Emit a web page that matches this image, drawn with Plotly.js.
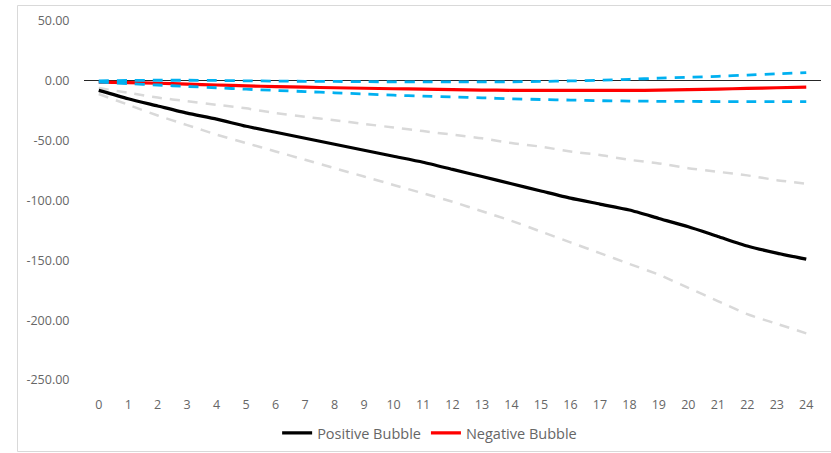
<!DOCTYPE html>
<html>
<head>
<meta charset="utf-8">
<script src="https://cdn.plot.ly/plotly-3.0.1.min.js"></script>
<style>
html,body{margin:0;padding:0;overflow:hidden;background:#fff;}
#chart{width:831px;height:453px;}
</style>
</head>
<body>
<div id="chart"></div>
<script>
// Horizon (categories)
const horizons = ["0","1","2","3","4","5","6","7","8","9","10","11","12","13","14","15","16","17","18","19","20","21","22","23","24"];

// Positive Bubble response and its bands
const positiveBubble = [-8,-15,-21,-27,-32,-38,-43,-48,-53,-58,-63,-68,-74,-80,-86,-92,-98,-103,-108,-115,-122,-130,-138,-144,-149];
const positiveUpper  = [-6,-10,-14,-17,-20,-23,-27,-30,-33,-36,-39,-42,-45,-48,-52,-55,-59,-62,-66,-69,-73,-76,-79,-83,-86];
const positiveLower  = [-11,-20,-29,-37,-45,-52,-59,-66,-73,-80,-87,-94,-101,-109,-117,-126,-135,-144,-153,-162,-173,-184,-195,-203,-211];

// Negative Bubble response and its bands
const negativeBubble = [-1,-1.5,-2,-2.8,-3.5,-4.2,-4.8,-5.3,-5.8,-6.2,-6.6,-7,-7.4,-7.7,-7.9,-8,-8,-8,-8,-7.8,-7.4,-6.9,-6.3,-5.8,-5.3];
const negativeUpper  = [0,0.3,0.5,0.5,0.3,0,-0.2,-0.4,-0.5,-0.7,-0.8,-0.9,-0.9,-0.9,-0.8,-0.5,-0.1,0.5,1.3,2.2,3,3.8,4.8,5.9,6.9];
const negativeLower  = [-1,-2.3,-3.5,-4.7,-5.8,-7,-8,-9,-10,-11,-12,-12.8,-13.5,-14.2,-15,-15.6,-16.1,-16.6,-16.9,-17.1,-17.2,-17.3,-17.3,-17.3,-17.3];

const yTicks = [50,0,-50,-100,-150,-200,-250];

const xIdx = horizons.map((_, i) => i);
const smooth = {shape:'spline', smoothing:0.6};

function band(y, color, width, dash){
  return {x:xIdx, y:y, type:'scatter', mode:'lines', showlegend:false, hoverinfo:'skip',
    line:Object.assign({color:color, width:width, dash:dash}, smooth)};
}

const traces = [
  band(positiveUpper, '#d9d9d9', 2.5, '10px,8px'),
  band(positiveLower, '#d9d9d9', 2.5, '10px,8px'),
  {x:xIdx, y:positiveBubble, type:'scatter', mode:'lines', name:'Positive Bubble',
   line:Object.assign({color:'#000000', width:3.2}, smooth)},
  {x:xIdx, y:negativeBubble, type:'scatter', mode:'lines', name:'Negative Bubble',
   line:Object.assign({color:'#ff0000', width:3.2}, smooth)},
  band(negativeUpper, '#00b0f0', 2.8, '10px,8px'),
  band(negativeLower, '#00b0f0', 2.8, '10px,8px')
];

const layout = {
  width:831, height:453,
  margin:{l:84, r:10, t:21, b:73, autoexpand:false},
  paper_bgcolor:'#ffffff', plot_bgcolor:'#ffffff',
  font:{family:'"Open Sans", Arial, sans-serif', size:12.5, color:'#666666'},
  xaxis:{
    range:[-0.5, 24.5], tickmode:'array', tickvals:xIdx, ticktext:horizons,
    showgrid:false, zeroline:false, showline:false,
    ticks:'outside', ticklen:13, tickcolor:'rgba(0,0,0,0)',
    tickfont:{size:12.5, color:'#666666'}, fixedrange:true
  },
  yaxis:{
    range:[-250, 50], tickmode:'array', tickvals:yTicks,
    ticktext:yTicks.map(v => v.toFixed(2)),
    showgrid:false, showline:false,
    zeroline:true, zerolinecolor:'#262626', zerolinewidth:1.3,
    ticks:'outside', ticklen:11, tickcolor:'rgba(0,0,0,0)',
    tickfont:{size:12.5, color:'#666666'}, fixedrange:true
  },
  legend:{
    orientation:'h', xref:'container', yref:'container',
    x:0.517, xanchor:'center', y:(453-433)/453, yanchor:'middle',
    font:{size:14.5, color:'#666666'}, itemwidth:30, tracegroupgap:0,
    bgcolor:'rgba(0,0,0,0)'
  },
  shapes:[{
    type:'rect', xref:'paper', yref:'paper',
    x0:(17.5-84)/737, x1:(840-84)/737, y0:(380-451.5)/359, y1:(380-5.5)/359,
    line:{color:'#d9d9d9', width:1}, fillcolor:'rgba(0,0,0,0)', layer:'below'
  }],
  showlegend:true
};

Plotly.newPlot('chart', traces, layout, {displayModeBar:false, staticPlot:true});
</script>
</body>
</html>
